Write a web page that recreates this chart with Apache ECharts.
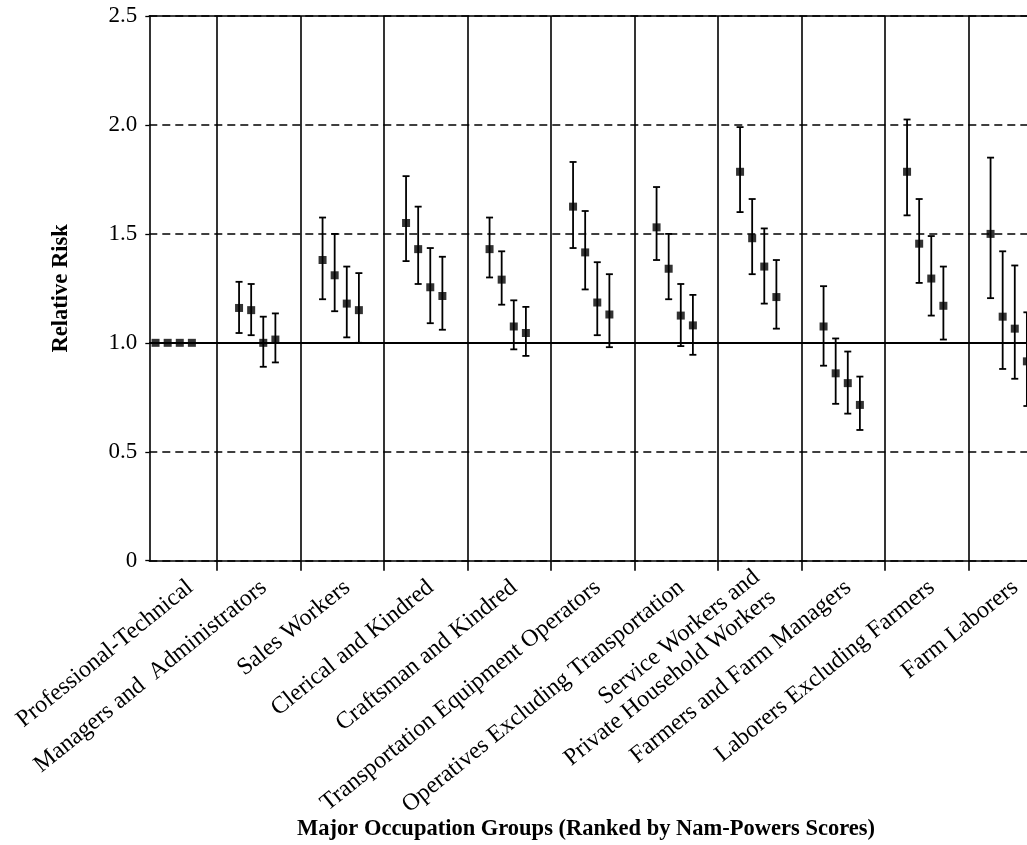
<!DOCTYPE html>
<html>
<head>
<meta charset="utf-8">
<script src="https://cdn.jsdelivr.net/npm/echarts@6/dist/echarts.min.js"></script>
<style>
html,body{margin:0;padding:0;background:#fff;}
#chart{width:1027px;height:845px;}
</style>
</head>
<body>
<div id="chart"></div>
<script>
// ---- data ----
const categories = [
  'Professional-Technical',
  'Managers and  Administrators',
  'Sales Workers',
  'Clerical and Kindred',
  'Craftsman and Kindred',
  'Transportation Equipment Operators',
  'Operatives Excluding Transportation',
  'Service Workers and\nPrivate Household Workers',
  'Farmers and Farm Managers',
  'Laborers Excluding Farmers',
  'Farm Laborers'
];
// relative risk estimates, 4 per occupation group
const estimates = [
  [1.00, 1.00, 1.00, 1.00],
  [1.16, 1.15, 1.00, 1.015],
  [1.38, 1.31, 1.18, 1.15],
  [1.55, 1.43, 1.255, 1.215],
  [1.43, 1.29, 1.075, 1.045],
  [1.625, 1.415, 1.185, 1.13],
  [1.53, 1.34, 1.125, 1.08],
  [1.785, 1.48, 1.35, 1.21],
  [1.075, 0.86, 0.815, 0.715],
  [1.785, 1.455, 1.295, 1.17],
  [1.50, 1.12, 1.065, 0.915]
];
const lowerCI = [
  [null, null, null, null],
  [1.045, 1.035, 0.89, 0.91],
  [1.20, 1.145, 1.025, 1.00],
  [1.375, 1.27, 1.09, 1.06],
  [1.30, 1.175, 0.97, 0.94],
  [1.435, 1.245, 1.035, 0.98],
  [1.38, 1.20, 0.985, 0.945],
  [1.60, 1.315, 1.18, 1.065],
  [0.895, 0.72, 0.675, 0.60],
  [1.585, 1.275, 1.125, 1.015],
  [1.205, 0.88, 0.835, 0.71]
];
const upperCI = [
  [null, null, null, null],
  [1.28, 1.27, 1.12, 1.135],
  [1.575, 1.50, 1.35, 1.32],
  [1.765, 1.625, 1.435, 1.395],
  [1.575, 1.42, 1.195, 1.165],
  [1.83, 1.605, 1.37, 1.315],
  [1.715, 1.50, 1.27, 1.22],
  [1.99, 1.66, 1.525, 1.38],
  [1.26, 1.02, 0.96, 0.845],
  [2.025, 1.66, 1.49, 1.35],
  [1.85, 1.42, 1.355, 1.14]
];
const yTicks = [0, 0.5, 1.0, 1.5, 2.0, 2.5];

// ---- layout helpers ----
const FONT = 'Liberation Serif, Times New Roman, serif';
const pxPerUnit = 83.5;
const gridLeft = 149.3, gridWidth = 900;
const xMin = 0.19;
const xMax = xMin + gridWidth / pxPerUnit;
const withinOffsets = [0.265, 0.41, 0.555, 0.70];

const pointData = [];
const errData = [];
estimates.forEach((grp, i) => {
  grp.forEach((v, j) => {
    const x = i + withinOffsets[j];
    pointData.push([x, v]);
    if (lowerCI[i][j] != null) errData.push([x, lowerCI[i][j], upperCI[i][j]]);
  });
});
const boundaries = categories.slice(1).map((c, i) => i + 1);
const labelPos = categories.map((c, i) => i + (i === 0 ? 0.68 : 0.56));

const chart = echarts.init(document.getElementById('chart'), null, {renderer: 'canvas'});
chart.setOption({
  backgroundColor: '#fff',
  animation: false,
  textStyle: {fontFamily: FONT, color: '#000'},
  grid: {left: gridLeft, width: gridWidth, top: 16, bottom: 845 - 560.7, outerBoundsMode: 'none', containLabel: false},
  xAxis: [{
    type: 'value', min: xMin, max: xMax, position: 'bottom',
    axisLine: {show: true, lineStyle: {color: '#000', width: 1.6}},
    axisTick: {show: true, customValues: boundaries, length: 10, lineStyle: {color: '#000', width: 1.6}},
    splitLine: {show: true, lineStyle: {color: '#000', width: 1.6, type: 'solid'}},
    axisLabel: {
      customValues: labelPos, rotate: 39, margin: 24, fontSize: 24, color: '#000', fontFamily: FONT,
      align: 'right', lineHeight: 26,
      formatter: v => categories[Math.floor(v)]
    }
  }, {
    type: 'value', min: xMin, max: xMax, position: 'top',
    axisLine: {show: true, onZero: false, lineStyle: {color: '#000', width: 1.6}},
    axisTick: {show: false}, axisLabel: {show: false}, splitLine: {show: false}
  }],
  yAxis: {
    type: 'value', min: 0, max: 2.5, interval: 0.5,
    name: 'Relative Risk', nameLocation: 'middle', nameGap: 77, nameRotate: 90,
    nameTextStyle: {fontSize: 22.5, fontWeight: 'bold', color: '#000', fontFamily: FONT},
    axisLine: {show: true, lineStyle: {color: '#000', width: 1.6}},
    axisTick: {show: true, length: 4, lineStyle: {color: '#000', width: 1.3}},
    axisLabel: {fontSize: 23, color: '#000', margin: 12, fontFamily: FONT,
      formatter: v => (v === 0 ? '0' : v.toFixed(1))},
    splitLine: {show: true, lineStyle: {color: '#000', width: 1.5, type: [8, 5]}}
  },
  graphic: [{
    type: 'text', x: 586, y: 829,
    style: {text: 'Major Occupation Groups (Ranked by Nam-Powers Scores)', fontSize: 22.5,
      fontWeight: 'bold', fontFamily: FONT, fill: '#000', align: 'center', verticalAlign: 'middle'}
  }],
  series: [{
    type: 'custom',
    data: errData,
    z: 3,
    renderItem: (params, api) => {
      const x = api.value(0);
      const lo = api.coord([x, api.value(1)]);
      const hi = api.coord([x, api.value(2)]);
      const cap = 3.5;
      const st = {stroke: '#000', lineWidth: 1.8};
      return {type: 'group', children: [
        {type: 'line', shape: {x1: lo[0], y1: lo[1], x2: hi[0], y2: hi[1]}, style: st},
        {type: 'line', shape: {x1: lo[0] - cap, y1: lo[1], x2: lo[0] + cap, y2: lo[1]}, style: st},
        {type: 'line', shape: {x1: hi[0] - cap, y1: hi[1], x2: hi[0] + cap, y2: hi[1]}, style: st}
      ]};
    },
    markLine: {
      silent: true, symbol: 'none', label: {show: false},
      lineStyle: {color: '#000', width: 1.8, type: 'solid'},
      data: [{yAxis: 1.0}]
    }
  }, {
    type: 'scatter',
    data: pointData,
    symbol: 'rect', symbolSize: 8,
    itemStyle: {color: '#000'},
    z: 4
  }]
});
</script>
</body>
</html>
